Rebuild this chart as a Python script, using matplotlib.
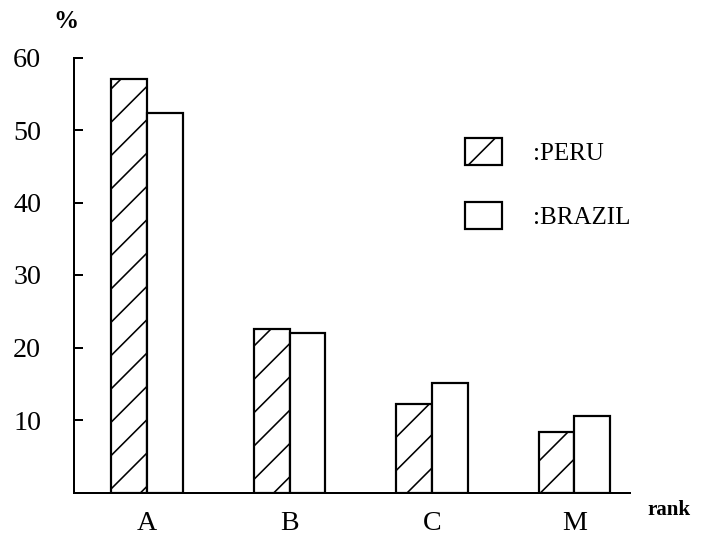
import matplotlib
matplotlib.use("Agg")
import numpy as np
import matplotlib.pyplot as plt

# values (percent per rank)
ranks = ["A", "B", "C", "M"]
peru = [57.0, 22.6, 12.2, 8.3]
brazil = [52.3, 22.0, 15.1, 10.6]
y_ticks = [10, 20, 30, 40, 50, 60]

# figure is drawn at dpi 200 so the hatch lines come out widely spaced
DPI = 200
PT = 72 / DPI  # points per output pixel

plt.rcParams["font.family"] = ["Liberation Serif", "DejaVu Serif"]
plt.rcParams["hatch.linewidth"] = 1.6 * PT
plt.rcParams["hatch.color"] = "black"

fig = plt.figure(figsize=(706 / DPI, 537 / DPI), dpi=DPI)
ax = fig.add_axes([74 / 706, 44.5 / 537, 556 / 706, 449.5 / 537])

x = np.arange(len(ranks))
w = 0.25
bar_lw = 2.2 * PT
ax.bar(x - w / 2, peru, w, facecolor="white", edgecolor="black",
       hatch="//", linewidth=bar_lw, label=":PERU")
ax.bar(x + w / 2, brazil, w, facecolor="white", edgecolor="black",
       linewidth=bar_lw, label=":BRAZIL")

ax.set_xlim(-0.513, 3.39)
ax.set_ylim(0, 62)

for s in ["top", "right"]:
    ax.spines[s].set_visible(False)
ax.spines["left"].set_bounds(0, 60)
ax.spines["left"].set_linewidth(2.0 * PT)
ax.spines["bottom"].set_linewidth(2.0 * PT)

ax.set_yticks(y_ticks)
ax.set_yticklabels([str(t) for t in y_ticks])
ax.tick_params(axis="y", direction="in", length=9 * PT, width=2 * PT,
               pad=33 * PT, labelsize=28 * PT)
ax.set_xticks(x)
ax.set_xticklabels(ranks)
ax.tick_params(axis="x", length=0, pad=19 * PT, labelsize=28 * PT)

fig.text(66 / 706, 1 - 21 / 537, "%", fontsize=25 * PT, fontweight="bold",
         ha="center", va="center")
fig.text(647 / 706, 1 - 510 / 537, "rank", fontsize=21 * PT, fontweight="bold",
         ha="left", va="center")

fs_leg = 25 * PT
ax.legend(loc="upper left", bbox_to_anchor=(465 / 706, 1 - 138 / 537),
          bbox_transform=fig.transFigure, frameon=False, fontsize=fs_leg,
          handlelength=37 / 25, handleheight=32 / 25, handletextpad=31 / 25,
          labelspacing=37 / 25, borderpad=0, borderaxespad=0)

fig.savefig("out.png", dpi=DPI)
